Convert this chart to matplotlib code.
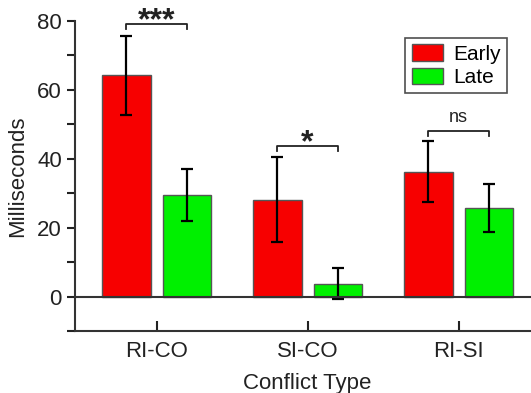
import numpy as np
import matplotlib.pyplot as plt
from matplotlib.ticker import MultipleLocator

plt.rcParams['font.family'] = ['Liberation Sans', 'DejaVu Sans']

categories = ['RI-CO', 'SI-CO', 'RI-SI']
early = [64.2, 28.1, 36.2]
early_err = [11.4, 12.3, 8.8]
late = [29.5, 3.7, 25.8]
late_err = [7.5, 4.5, 7.0]
sig_labels = ['***', '*', 'ns']
sig_heights = [79.0, 43.8, 48.1]

fig = plt.figure(figsize=(5.31, 3.93), dpi=100)
ax = fig.add_axes([0.1412, 0.1573, 0.8588, 0.79])

x = np.arange(len(categories))
off = 0.2
w = 0.32
dark = '#222222'
ax.bar(x - off, early, w, color='#f70000', edgecolor='#555555', linewidth=1, label='Early', zorder=2)
ax.bar(x + off, late, w, color='#00f000', edgecolor='#555555', linewidth=1, label='Late', zorder=2)
ax.errorbar(x - off, early, yerr=early_err, fmt='none', ecolor='black', elinewidth=1.6,
            capsize=4.5, capthick=1.6, zorder=3)
ax.errorbar(x + off, late, yerr=late_err, fmt='none', ecolor='black', elinewidth=1.6,
            capsize=4.5, capthick=1.6, zorder=3)

ax.axhline(0, color='#333333', linewidth=1.5, zorder=4)

# significance brackets
for xi, lab, h in zip(x, sig_labels, sig_heights):
    ax.plot([xi - off, xi - off, xi + off, xi + off], [h - 1.5, h, h, h - 1.5],
            color=dark, linewidth=1.3, clip_on=False)
    if lab == 'ns':
        ax.text(xi, h + 1.3, lab, ha='center', va='bottom', fontsize=13, color=dark)
    else:
        ax.text(xi, h - 3.6, lab, ha='center', va='bottom', fontsize=23,
                fontweight='bold', color=dark)

ax.set_xlim(-0.54, 2.479)
ax.set_ylim(-10, 80)
ax.set_xticks(x)
ax.set_xticklabels(categories)
ax.yaxis.set_major_locator(MultipleLocator(20))
ax.yaxis.set_minor_locator(MultipleLocator(10))
ax.tick_params(axis='y', which='both', direction='out', length=6, width=1.5,
               labelsize=16, colors=dark)
ax.tick_params(axis='x', direction='in', length=7, width=1.5, labelsize=16,
               colors=dark, pad=7)
for s in ['top', 'right']:
    ax.spines[s].set_visible(False)
for s in ['left', 'bottom']:
    ax.spines[s].set_linewidth(1.5)
    ax.spines[s].set_color('#333333')

ax.set_ylabel('Milliseconds', fontsize=16, color=dark)
ax.set_xlabel('Conflict Type', fontsize=16, color=dark)
ax.yaxis.set_label_coords(-0.103, 0.5)
ax.xaxis.set_label_coords(0.51, -0.135)

leg = ax.legend(loc='upper left', bbox_to_anchor=(0.7245, 0.945), fontsize=15,
                frameon=True, fancybox=False, edgecolor=dark, handlelength=1.5,
                handleheight=0.85, borderpad=0.3, labelspacing=0.2, handletextpad=0.5,
                borderaxespad=0)
leg.get_frame().set_linewidth(1.2)

plt.savefig('out.png', dpi=100)
plt.close()
